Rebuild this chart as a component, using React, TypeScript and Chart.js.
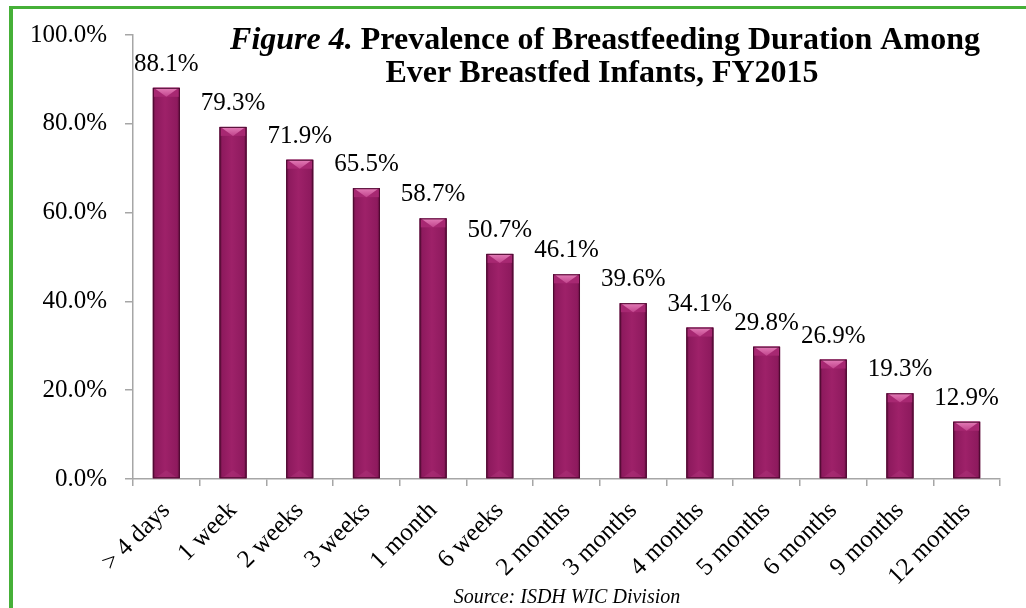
import React, { useEffect, useRef } from "react";
import { Chart, registerables } from "chart.js";

Chart.register(...registerables);

const categories = [
  "> 4 days", "1 week", "2 weeks", "3 weeks", "1 month", "6 weeks", "2 months",
  "3 months", "4 months", "5 months", "6 months", "9 months", "12 months",
];
const prevalence = [88.1, 79.3, 71.9, 65.5, 58.7, 50.7, 46.1, 39.6, 34.1, 29.8, 26.9, 19.3, 12.9];
const yTicks = [0, 20, 40, 60, 80, 100];
const titleItalic = "Figure 4.";
const titleLine1 = " Prevalence of Breastfeeding Duration Among";
const titleLine2 = "Ever Breastfed Infants, FY2015";
const sourceText = "Source: ISDH WIC Division";

const SERIF = '"Liberation Serif", "Times New Roman", serif';

const decorPlugin = {
  id: "decor",
  afterDatasetsDraw(chart: any) {
    const ctx = chart.ctx;
    const meta = chart.getDatasetMeta(0);
    ctx.save();
    meta.data.forEach((el: any, i: number) => {
      const { x, y, width, base } = el.getProps(["x", "y", "width", "base"], true);
      const l = x - width / 2;
      const r = x + width / 2;
      const g = ctx.createLinearGradient(l, 0, r, 0);
      g.addColorStop(0, "#5E0E3B");
      g.addColorStop(0.1, "#8E1A5E");
      g.addColorStop(0.45, "#9E2169");
      g.addColorStop(0.9, "#8E1A5E");
      g.addColorStop(1, "#5E0E3B");
      ctx.fillStyle = g;
      ctx.fillRect(l, y, width, base - y);
      const bh = 9;
      ctx.fillStyle = "#A72872";
      ctx.fillRect(l + 1, y, width - 2, bh);
      const tg = ctx.createLinearGradient(0, y, 0, y + bh);
      tg.addColorStop(0, "#E47DB8");
      tg.addColorStop(1, "#C1448C");
      ctx.beginPath();
      ctx.moveTo(l + 1, y);
      ctx.lineTo(r - 1, y);
      ctx.lineTo(x, y + bh);
      ctx.closePath();
      ctx.fillStyle = tg;
      ctx.fill();
      ctx.beginPath();
      ctx.moveTo(l + 2, base);
      ctx.lineTo(r - 2, base);
      ctx.lineTo(x, base - 8);
      ctx.closePath();
      ctx.fillStyle = "rgba(180,60,130,0.35)";
      ctx.fill();
      ctx.strokeStyle = "#4E0A31";
      ctx.lineWidth = 1;
      ctx.strokeRect(l + 0.5, y + 0.5, width - 1, base - y - 1);
      ctx.fillStyle = "#000";
      ctx.font = `25px ${SERIF}`;
      ctx.textAlign = "center";
      ctx.textBaseline = "alphabetic";
      ctx.fillText(prevalence[i].toFixed(1) + "%", x, y - 17);
    });
    ctx.restore();
  },
  afterDraw(chart: any) {
    const ctx = chart.ctx;
    ctx.save();
    ctx.fillStyle = "#000";
    ctx.textBaseline = "alphabetic";
    ctx.textAlign = "left";
    const fI = `italic bold 32px ${SERIF}`;
    const fB = `bold 32px ${SERIF}`;
    ctx.font = fI;
    const wI = ctx.measureText(titleItalic).width;
    ctx.font = fB;
    const w1 = ctx.measureText(titleLine1).width;
    const start1 = 605 - (wI + w1) / 2;
    ctx.font = fI;
    ctx.fillText(titleItalic, start1, 49);
    ctx.font = fB;
    ctx.fillText(titleLine1, start1 + wI, 49);
    ctx.textAlign = "center";
    ctx.fillText(titleLine2, 602, 82);
    ctx.font = `italic 20px ${SERIF}`;
    ctx.fillText(sourceText, 567, 603);
    ctx.restore();
  },
};

export default function App() {
  const ref = useRef<HTMLCanvasElement | null>(null);
  useEffect(() => {
    document.body.style.margin = "0";
    const canvas = ref.current!;
    const chart = new Chart(canvas, {
      type: "bar",
      data: {
        labels: categories,
        datasets: [
          {
            data: prevalence,
            backgroundColor: "#941C62",
            borderWidth: 0,
            barPercentage: 0.405,
            categoryPercentage: 1,
          },
        ],
      },
      options: {
        responsive: false,
        animation: false,
        devicePixelRatio: 1,
        layout: { padding: { left: 0, right: 26, top: 35, bottom: 0 } },
        plugins: { legend: { display: false }, tooltip: { enabled: false }, title: { display: false } },
        scales: {
          x: {
            grid: { drawOnChartArea: false, offset: true, tickLength: 7, color: "#A6A6A6", lineWidth: 1.5 },
            border: { color: "#A6A6A6", width: 1.5 },
            ticks: {
              font: { family: SERIF, size: 25 },
              color: "#000",
              maxRotation: 45,
              minRotation: 45,
              autoSkip: false,
              padding: 10,
            },
            afterFit: (s: any) => {
              s.height = 129;
            },
          },
          y: {
            min: 0,
            max: 100,
            afterBuildTicks: (s: any) => {
              s.ticks = yTicks.map((v) => ({ value: v }));
            },
            grid: { drawOnChartArea: false, tickLength: 8, color: "#A6A6A6", lineWidth: 1.5 },
            border: { color: "#A6A6A6", width: 1.5 },
            ticks: {
              font: { family: SERIF, size: 25 },
              color: "#000",
              padding: 18,
              callback: (v: any) => Number(v).toFixed(1) + "%",
            },
            afterFit: (s: any) => {
              s.width = 133;
            },
          },
        },
      },
      plugins: [decorPlugin],
    });
    return () => chart.destroy();
  }, []);
  return (
    <div style={{ position: "fixed", left: 0, top: 0, width: 1026, height: 608, background: "#fff", overflow: "hidden" }}>
      <div
        style={{
          position: "absolute",
          left: 9,
          top: 6,
          width: 1100,
          height: 700,
          borderLeft: "4px solid #46B038",
          borderTop: "3px solid #46B038",
        }}
      />
      <canvas ref={ref} width={1026} height={608} style={{ position: "absolute", left: 0, top: 0, width: 1026, height: 608 }} />
    </div>
  );
}
